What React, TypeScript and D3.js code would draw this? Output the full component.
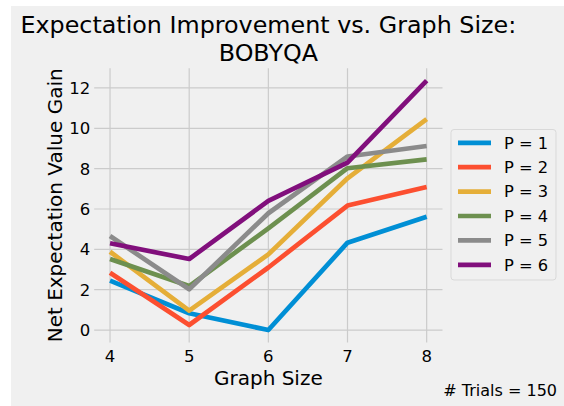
import React from "react";
import * as d3 from "d3";

const graphSizes = [4, 5, 6, 7, 8];
const seriesNames = ["P = 1", "P = 2", "P = 3", "P = 4", "P = 5", "P = 6"];
const p1 = [2.45, 0.83, 0.0, 4.33, 5.62];
const p2 = [2.84, 0.25, 3.1, 6.17, 7.09];
const p3 = [3.88, 0.96, 3.75, 7.52, 10.45];
const p4 = [3.52, 2.18, 5.04, 8.02, 8.46];
const p5 = [4.66, 2.02, 5.79, 8.6, 9.12];
const p6 = [4.3, 3.52, 6.4, 8.3, 12.36];
const seriesValues = [p1, p2, p3, p4, p5, p6];
const colors = ["#008fd5", "#fc4f30", "#e5ae38", "#6d904f", "#8b8b8b", "#810f7c"];
const yTicks = [0, 2, 4, 6, 8, 10, 12];
const xTicks = [4, 5, 6, 7, 8];
const titleLines = ["Expectation Improvement vs. Graph Size:", "BOBYQA"];
const xLabel = "Graph Size";
const yLabel = "Net Expectation Value Gain";
const note = "# Trials = 150";

const W = 564;
const H = 406;
const left = 94.2;
const right = 442.5;
const top = 68.2;
const bottom = 342.5;
const font = "DejaVu Sans, sans-serif";

export default function App() {
  const all = seriesValues.flat();
  const xMin = d3.min(graphSizes)!;
  const xMax = d3.max(graphSizes)!;
  const xPad = (xMax - xMin) * 0.05;
  const yMin = d3.min(all)!;
  const yMax = d3.max(all)!;
  const yPad = (yMax - yMin) * 0.05;
  const x = d3.scaleLinear().domain([xMin - xPad, xMax + xPad]).range([left, right]);
  const y = d3.scaleLinear().domain([yMin - yPad, yMax + yPad]).range([bottom, top]);
  const line = d3
    .line<number>()
    .x((_, i) => x(graphSizes[i]))
    .y((d) => y(d));

  const legX = 451;
  const legY = 129.5;
  const legW = 105;
  const legH = 150.5;
  const rowH = 24.4;

  return (
    <svg
      width={W}
      height={H}
      style={{ position: "absolute", left: 0, top: 0 }}
      fontFamily={font}
    >
      <rect x={0} y={0} width={W} height={H} fill="#ffffff" />
      <rect x={11} y={6} width={W - 11} height={H - 6} fill="#f0f0f0" />
      {/* grid */}
      {yTicks.map((t) => (
        <line key={"gy" + t} x1={left} x2={right} y1={y(t)} y2={y(t)} stroke="#cbcbcb" strokeWidth={1.2} />
      ))}
      {xTicks.map((t) => (
        <line key={"gx" + t} x1={x(t)} x2={x(t)} y1={top} y2={bottom} stroke="#cbcbcb" strokeWidth={1.2} />
      ))}
      {/* tick labels */}
      {yTicks.map((t) => (
        <text key={"ty" + t} x={left - 4} y={y(t)} dy="0.36em" textAnchor="end" fontSize={16.5} fill="#000">
          {t}
        </text>
      ))}
      {xTicks.map((t) => (
        <text key={"tx" + t} x={x(t)} y={bottom + 19} textAnchor="middle" fontSize={16.5} fill="#000">
          {t}
        </text>
      ))}
      {/* lines */}
      {seriesValues.map((vals, i) => (
        <path
          key={"s" + i}
          d={line(vals) || ""}
          fill="none"
          stroke={colors[i]}
          strokeWidth={4.7}
          strokeLinecap="butt"
          strokeLinejoin="round"
        />
      ))}
      {/* axis labels */}
      <text x={(left + right) / 2} y={385} textAnchor="middle" fontSize={20} fill="#000">
        {xLabel}
      </text>
      <text
        transform={`translate(62,${(top + bottom) / 2}) rotate(-90)`}
        textAnchor="middle"
        fontSize={20}
        fill="#000"
      >
        {yLabel}
      </text>
      {/* title */}
      {titleLines.map((t, i) => (
        <text key={"title" + i} x={(left + right) / 2} y={33 + i * 28} textAnchor="middle" fontSize={23.8} fill="#000">
          {t}
        </text>
      ))}
      {/* legend */}
      <rect x={legX} y={legY} width={legW} height={legH} rx={3} ry={3} fill="#f0f0f0" stroke="#d9d9d9" strokeWidth={1} />
      {seriesNames.map((name, i) => {
        const cy = legY + 13.3 + i * rowH;
        return (
          <g key={"leg" + i}>
            <line x1={458} x2={491} y1={cy} y2={cy} stroke={colors[i]} strokeWidth={4.7} />
            <text x={504} y={cy} dy="0.36em" fontSize={16.3} fill="#000">
              {name}
            </text>
          </g>
        );
      })}
      <text x={557} y={396} textAnchor="end" fontSize={16} fill="#000">
        {note}
      </text>
    </svg>
  );
}
